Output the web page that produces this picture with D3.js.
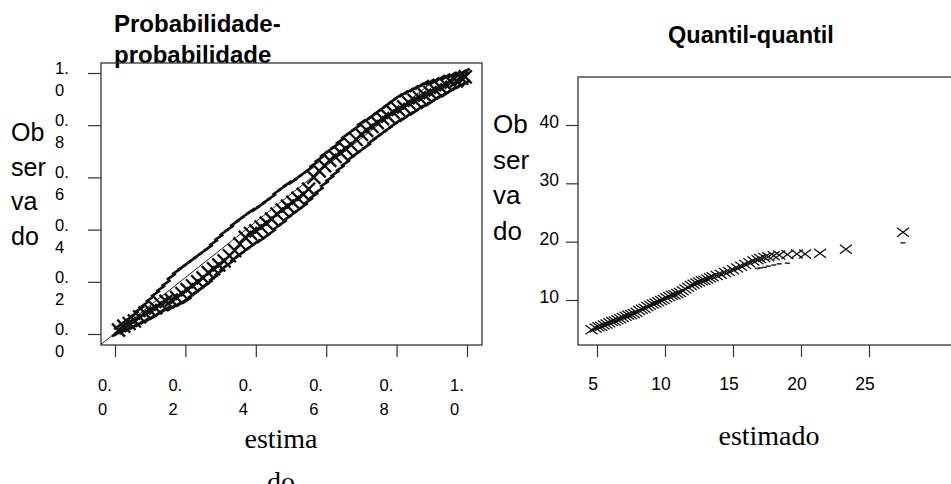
<!DOCTYPE html>
<html><head><meta charset="utf-8">
<script src="https://cdn.jsdelivr.net/npm/d3@7"></script>
<style>body{margin:0;background:#fff}svg{display:block}</style>
</head><body>
<svg id="c" width="951" height="484"></svg>
<script>
// ---------- Data: left panel (P-P plot) ----------
const ppEst = [0.01,0.025,0.04,0.055,0.07,0.085,0.10,0.115,0.13,0.145,0.16,0.175,0.19,0.205,0.22,0.235,0.25,0.265,0.28,0.295,0.31,0.325,0.34,0.355,0.37,0.385,0.40,0.415,0.43,0.445,0.46,0.475,0.49,0.505,0.52,0.535,0.55,0.565,0.58,0.595,0.61,0.625,0.64,0.655,0.67,0.685,0.70,0.715,0.73,0.745,0.76,0.775,0.79,0.805,0.82,0.835,0.85,0.865,0.88,0.895,0.91,0.925,0.94,0.955,0.97,0.985,0.995];
const ppObs = [0.015,0.03,0.04,0.05,0.065,0.08,0.09,0.10,0.115,0.125,0.13,0.14,0.155,0.17,0.185,0.20,0.215,0.235,0.25,0.265,0.28,0.30,0.32,0.345,0.37,0.385,0.395,0.41,0.425,0.44,0.46,0.475,0.49,0.505,0.52,0.535,0.555,0.60,0.625,0.645,0.665,0.68,0.695,0.71,0.725,0.745,0.765,0.78,0.795,0.81,0.825,0.835,0.85,0.86,0.87,0.885,0.895,0.905,0.915,0.925,0.935,0.945,0.955,0.965,0.97,0.98,0.985];
const ppUpper = [0.03,0.045,0.06,0.075,0.095,0.115,0.135,0.155,0.175,0.195,0.22,0.24,0.255,0.27,0.285,0.30,0.315,0.33,0.35,0.37,0.39,0.405,0.425,0.44,0.455,0.47,0.48,0.495,0.51,0.525,0.545,0.56,0.575,0.585,0.60,0.615,0.63,0.65,0.67,0.69,0.705,0.72,0.74,0.76,0.775,0.79,0.81,0.82,0.835,0.85,0.865,0.88,0.895,0.91,0.92,0.93,0.94,0.95,0.96,0.965,0.97,0.98,0.985,0.99,0.995,1.0,1.005];
const ppLower = [0.005,0.012,0.02,0.03,0.04,0.05,0.06,0.07,0.085,0.095,0.10,0.11,0.12,0.13,0.15,0.165,0.18,0.195,0.215,0.235,0.255,0.27,0.29,0.305,0.32,0.335,0.35,0.36,0.375,0.39,0.41,0.425,0.445,0.46,0.475,0.49,0.51,0.53,0.55,0.575,0.595,0.615,0.635,0.655,0.675,0.69,0.705,0.72,0.74,0.755,0.77,0.785,0.80,0.815,0.825,0.84,0.85,0.865,0.875,0.885,0.90,0.91,0.92,0.935,0.945,0.955,0.96];
const ppRefLine = [[-0.04,-0.04],[0.92,0.985]];
const ppTicks = [0,0.2,0.4,0.6,0.8,1.0];
const ppTickLabels = ["0.0","0.2","0.4","0.6","0.8","1.0"];

// ---------- Data: right panel (Q-Q plot) ----------
const qqEst = [4.6,4.9,5.1,5.3,5.5,5.7,5.9,6.1,6.3,6.5,6.7,6.9,7.1,7.3,7.5,7.7,7.9,8.1,8.3,8.5,8.7,8.9,9.1,9.3,9.5,9.7,9.9,10.1,10.3,10.5,10.7,10.9,11.1,11.3,11.5,11.7,11.9,12.1,12.3,12.5,12.7,12.9,13.1,13.3,13.5,13.8,14.1,14.4,14.7,15.0,15.3,15.6,15.9,16.2,16.5,16.8,17.0,17.3,17.6,18.0,18.4,19.0,19.7,20.3,21.4,23.3,27.5];
const qqObs = [4.9,5.2,5.4,5.5,5.7,5.9,6.1,6.3,6.4,6.6,6.8,7.0,7.2,7.4,7.5,7.7,7.9,8.2,8.4,8.6,8.9,9.1,9.3,9.5,9.7,9.9,10.1,10.4,10.6,10.8,10.9,11.1,11.3,11.6,11.9,12.2,12.5,12.7,12.9,13.1,13.3,13.4,13.6,13.8,14.0,14.2,14.4,14.7,14.9,15.2,15.5,15.8,16.1,16.4,16.7,16.9,17.1,17.3,17.4,17.6,17.7,17.8,17.9,17.9,18.0,18.7,21.6];
const qqLower = [null,null,null,null,null,null,null,null,null,null,null,null,null,null,null,null,null,null,null,null,null,null,null,null,null,null,null,null,null,null,null,null,null,null,null,null,null,null,null,null,null,null,null,null,null,null,null,null,null,null,null,null,null,null,null,15.4,15.5,15.6,15.8,16.0,16.2,16.3,null,null,null,null,19.8];
const qqXTicks = [5,10,15,20,25];
const qqYTicks = [10,20,30,40];

const svg = d3.select("#c");
const ink = "#111";

function crossPath(x, y, sx, sy){
  return `M${x-sx},${y-sy}L${x+sx},${y+sy}M${x-sx},${y+sy}L${x+sx},${y-sy}`;
}

// ================= LEFT PANEL =================
const xL = d3.scaleLinear().domain([0,1]).range([115,467]);
const yL = d3.scaleLinear().domain([0,1]).range([334,73]);
const L = {x0:101, x1:482, y0:63, y1:345};
const sans = "Liberation Sans, Arial, sans-serif";
const serif = "Liberation Serif, Times New Roman, serif";

svg.append("text").attr("x",114).attr("y",32)
  .attr("font-family",sans).attr("font-weight","bold")
  .attr("font-size",24).attr("fill","#000").text("Probabilidade-");
svg.append("text").attr("x",114).attr("y",63)
  .attr("font-family",sans).attr("font-weight","bold")
  .attr("font-size",24).attr("fill","#000").text("probabilidade");

svg.append("rect").attr("x",L.x0).attr("y",L.y0).attr("width",L.x1-L.x0).attr("height",L.y1-L.y0)
  .attr("fill","none").attr("stroke","#333").attr("stroke-width",1.3);

const gLY = svg.append("g").attr("transform",`translate(${L.x0},0)`)
  .call(d3.axisLeft(yL).tickValues(ppTicks).tickSize(13).tickFormat(""));
const gLX = svg.append("g").attr("transform",`translate(0,${L.y1})`)
  .call(d3.axisBottom(xL).tickValues(ppTicks).tickSize(12).tickFormat(""));
[gLY,gLX].forEach(g=>{ g.select(".domain").remove(); g.selectAll("line").attr("stroke","#333").attr("stroke-width",1.2); });

ppTicks.forEach((v,i)=>{
  const lab = ppTickLabels[i];
  const t = svg.append("text").attr("font-family",sans).attr("font-size",16.5).attr("fill","#000");
  t.append("tspan").attr("x",55).attr("y",yL(v)+1).text(lab.slice(0,2));
  t.append("tspan").attr("x",55).attr("y",yL(v)+23).text(lab.slice(2));
  const u = svg.append("text").attr("font-family",sans).attr("font-size",16.5).attr("fill","#000");
  u.append("tspan").attr("x",xL(v)-17).attr("y",L.y1+46).text(lab.slice(0,2));
  u.append("tspan").attr("x",xL(v)-17).attr("y",L.y1+70).text(lab.slice(2));
});

const ytL = svg.append("text").attr("font-family",sans).attr("font-size",25).attr("fill","#000");
["Ob","ser","va","do"].forEach((s,i)=>ytL.append("tspan").attr("x",11).attr("y",141+i*34.7).text(s));
const xtL = svg.append("text").attr("font-family",serif).attr("font-size",28)
  .attr("fill","#000").attr("text-anchor","middle");
xtL.append("tspan").attr("x",281).attr("y",448).text("estima");
xtL.append("tspan").attr("x",281).attr("y",491).text("do");

svg.append("line")
  .attr("x1",xL(ppRefLine[0][0])).attr("y1",yL(ppRefLine[0][1]))
  .attr("x2",xL(ppRefLine[1][0])).attr("y2",yL(ppRefLine[1][1]))
  .attr("stroke","#222").attr("stroke-width",1);

const dashL = (arr)=>svg.append("g").selectAll("path").data(ppEst).join("path")
  .attr("d",(d,i)=>{const x=xL(d), y=yL(arr[i]); return `M${x-4.5},${y+3}L${x+4.5},${y-3}`;})
  .attr("stroke",ink).attr("stroke-width",2.6).attr("fill","none");
dashL(ppUpper); dashL(ppLower);

svg.append("g").selectAll("path").data(ppEst).join("path")
  .attr("d",(d,i)=>crossPath(xL(d),yL(ppObs[i]),6.5,6.5))
  .attr("stroke",ink).attr("stroke-width",2.3).attr("fill","none");

// ================= RIGHT PANEL =================
const xR = d3.scaleLinear().domain([5,25]).range([597,869]);
const yR = d3.scaleLinear().domain([10,40]).range([300,125]);
const R = {x0:578, x1:960, y0:77, y1:345};

svg.append("text").attr("x",751).attr("y",43).attr("text-anchor","middle")
  .attr("font-family",sans).attr("font-weight","bold").attr("font-size",23.5).attr("fill","#000")
  .text("Quantil-quantil");

svg.append("rect").attr("x",R.x0).attr("y",R.y0).attr("width",R.x1-R.x0).attr("height",R.y1-R.y0)
  .attr("fill","none").attr("stroke","#333").attr("stroke-width",1.3);

const gRY = svg.append("g").attr("transform",`translate(${R.x0},0)`)
  .call(d3.axisLeft(yR).tickValues(qqYTicks).tickSize(12).tickFormat(""));
const gRX = svg.append("g").attr("transform",`translate(0,${R.y1})`)
  .call(d3.axisBottom(xR).tickValues(qqXTicks).tickSize(12).tickFormat(""));
[gRY,gRX].forEach(g=>{ g.select(".domain").remove(); g.selectAll("line").attr("stroke","#333").attr("stroke-width",1.2); });

svg.append("g").selectAll("text").data(qqYTicks).join("text")
  .attr("x",559).attr("y",d=>yR(d)+3).attr("text-anchor","end")
  .attr("font-family",sans).attr("font-size",17.5).attr("fill","#000").text(d=>d);
svg.append("g").selectAll("text").data(qqXTicks).join("text")
  .attr("x",d=>xR(d)-4).attr("y",390).attr("text-anchor","middle")
  .attr("font-family",sans).attr("font-size",17.5).attr("fill","#000").text(d=>d);

const ytR = svg.append("text").attr("font-family",sans).attr("font-size",26).attr("fill","#000");
["Ob","ser","va","do"].forEach((s,i)=>ytR.append("tspan").attr("x",493).attr("y",133+i*35.5).text(s));
svg.append("text").attr("x",769).attr("y",445).attr("text-anchor","middle")
  .attr("font-family",serif).attr("font-size",28).attr("fill","#000")
  .text("estimado");

svg.append("g").selectAll("path").data(qqEst.map((d,i)=>[d,qqLower[i]]).filter(p=>p[1]!=null)).join("path")
  .attr("d",p=>{const x=xR(p[0]), y=yR(p[1]); return `M${x-2.5},${y}L${x+2.5},${y}`;})
  .attr("stroke","#333").attr("stroke-width",1.6);

svg.append("g").selectAll("path").data(qqEst).join("path")
  .attr("d",(d,i)=>crossPath(xR(d),yR(qqObs[i]),6,4.5))
  .attr("stroke",ink).attr("stroke-width",1.3).attr("fill","none");
</script>
</body></html>
